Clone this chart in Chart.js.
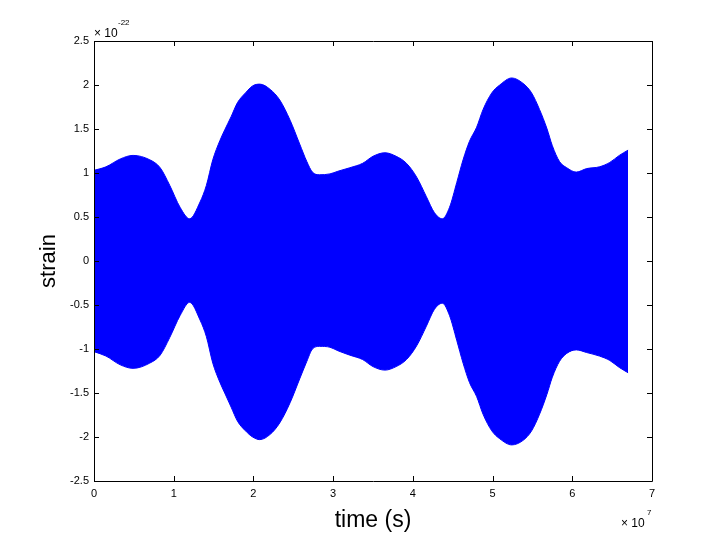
<!DOCTYPE html>
<html>
<head>
<meta charset="utf-8">
<script src="https://cdn.jsdelivr.net/npm/chart.js@4.4.1/dist/chart.umd.min.js"></script>
<style>
  body { margin: 0; background: #fff; }
  canvas { display: block; }
</style>
</head>
<body>
<canvas id="strain-chart" width="720" height="540"></canvas>
<script>
// time in units of 1e7 s, strain envelope in units of 1e-22
var times = [0, 0.15, 0.33, 0.49, 0.70, 0.83, 0.95, 1.08, 1.20, 1.33, 1.41, 1.49, 1.58, 1.64, 1.72, 1.80,
  1.90, 1.99, 2.08, 2.21, 2.33, 2.46, 2.58, 2.67, 2.74, 2.83, 2.96, 3.06, 3.21, 3.37, 3.50, 3.65, 3.79,
  3.92, 4.05, 4.17, 4.27, 4.37, 4.46, 4.55, 4.63, 4.71, 4.80, 4.88, 4.99, 5.09, 5.24, 5.38, 5.49, 5.59,
  5.68, 5.75, 5.84, 5.93, 6.05, 6.18, 6.34, 6.47, 6.59, 6.70];
var upper = [1.03, 1.07, 1.16, 1.20, 1.15, 1.06, 0.86, 0.61, 0.48, 0.67, 0.86, 1.15, 1.37, 1.49, 1.64, 1.80,
  1.91, 1.99, 2.01, 1.95, 1.83, 1.60, 1.33, 1.13, 1.01, 0.98, 0.99, 1.02, 1.06, 1.11, 1.19, 1.23, 1.19,
  1.11, 0.95, 0.73, 0.55, 0.48, 0.61, 0.89, 1.15, 1.36, 1.52, 1.72, 1.91, 2.00, 2.08, 2.02, 1.91, 1.72,
  1.51, 1.31, 1.13, 1.06, 1.01, 1.05, 1.07, 1.12, 1.20, 1.26];
var lower = [-1.03, -1.08, -1.18, -1.22, -1.16, -1.07, -0.87, -0.62, -0.47, -0.67, -0.86, -1.16, -1.38, -1.50, -1.66, -1.82,
  -1.93, -2.00, -2.03, -1.97, -1.84, -1.61, -1.34, -1.14, -1.00, -0.97, -0.98, -1.02, -1.07, -1.12, -1.20, -1.24, -1.20,
  -1.12, -0.96, -0.74, -0.55, -0.48, -0.62, -0.90, -1.16, -1.38, -1.54, -1.74, -1.93, -2.02, -2.09, -2.04, -1.93, -1.74,
  -1.52, -1.32, -1.14, -1.05, -1.01, -1.04, -1.08, -1.13, -1.21, -1.27];
var xTicks = [0, 1, 2, 3, 4, 5, 6, 7];
var yTicks = [-2.5, -2, -1.5, -1, -0.5, 0, 0.5, 1, 1.5, 2, 2.5];

var fontFamily = '"Liberation Sans", Arial, Helvetica, sans-serif';

function toPoints(ys) {
  return times.map(function(t, i) { return {x: t, y: ys[i]}; });
}

// matlab style box with inward ticks + exponent labels
var boxPlugin = {
  id: 'matlabBox',
  afterDraw: function(chart) {
    var ctx = chart.ctx, a = chart.chartArea;
    var xs = chart.scales.x, ys = chart.scales.y;
    var len = 5;
    ctx.save();
    ctx.strokeStyle = '#000';
    ctx.lineWidth = 1;
    ctx.beginPath();
    ctx.rect(Math.round(a.left) + 0.5, Math.round(a.top) + 0.5, Math.round(a.right - a.left), Math.round(a.bottom - a.top));
    xTicks.forEach(function(v) {
      var px = Math.round(xs.getPixelForValue(v)) + 0.5;
      ctx.moveTo(px, a.bottom); ctx.lineTo(px, a.bottom - len);
      ctx.moveTo(px, a.top); ctx.lineTo(px, a.top + len);
    });
    yTicks.forEach(function(v) {
      var py = Math.round(ys.getPixelForValue(v)) + 0.5;
      ctx.moveTo(a.left, py); ctx.lineTo(a.left + len, py);
      ctx.moveTo(a.right, py); ctx.lineTo(a.right - len, py);
    });
    ctx.stroke();

    ctx.fillStyle = '#000';
    ctx.textBaseline = 'alphabetic';
    ctx.textAlign = 'left';
    ctx.font = '12px ' + fontFamily;
    ctx.fillText('\u00d7 10', a.left, a.top - 4);
    ctx.font = '8px ' + fontFamily;
    ctx.fillText('-22', a.left + 24, a.top - 16);
    ctx.font = '12px ' + fontFamily;
    ctx.fillText('\u00d7 10', a.right - 31, 527);
    ctx.font = '8px ' + fontFamily;
    ctx.fillText('7', a.right - 5, 515);
    ctx.restore();
  }
};

new Chart(document.getElementById('strain-chart'), {
  type: 'line',
  data: {
    datasets: [
      {
        data: toPoints(upper),
        borderColor: '#0000ff',
        backgroundColor: '#0000ff',
        borderWidth: 1,
        pointRadius: 0,
        cubicInterpolationMode: 'monotone',
        fill: '+1'
      },
      {
        data: toPoints(lower),
        borderColor: '#0000ff',
        backgroundColor: '#0000ff',
        borderWidth: 1,
        pointRadius: 0,
        cubicInterpolationMode: 'monotone',
        fill: false
      }
    ]
  },
  options: {
    responsive: false,
    animation: false,
    layout: {padding: {left: 0, top: 41, right: 68, bottom: 0}},
    plugins: {legend: {display: false}, tooltip: {enabled: false}},
    scales: {
      x: {
        type: 'linear',
        min: 0,
        max: 7,
        afterBuildTicks: function(scale) { scale.ticks = xTicks.map(function(v) { return {value: v}; }); },
        afterFit: function(scale) { scale.height = 59; },
        grid: {display: false, drawTicks: false},
        border: {display: false},
        ticks: {color: '#000', padding: 6, font: {family: fontFamily, size: 11}, maxRotation: 0,
          callback: function(v) { return String(v); }},
        title: {display: true, text: 'time (s)', color: '#000', padding: {top: 0, bottom: 6},
          font: {family: fontFamily, size: 23}}
      },
      y: {
        type: 'linear',
        min: -2.5,
        max: 2.5,
        afterBuildTicks: function(scale) { scale.ticks = yTicks.map(function(v) { return {value: v}; }); },
        afterFit: function(scale) { scale.width = 94; },
        grid: {display: false, drawTicks: false},
        border: {display: false},
        ticks: {color: '#000', padding: 5, font: {family: fontFamily, size: 11},
          callback: function(v) { return String(v); }},
        title: {display: true, text: 'strain', color: '#000', padding: {top: 36, bottom: 0},
          font: {family: fontFamily, size: 22}}
      }
    }
  },
  plugins: [boxPlugin]
});
</script>
</body>
</html>
